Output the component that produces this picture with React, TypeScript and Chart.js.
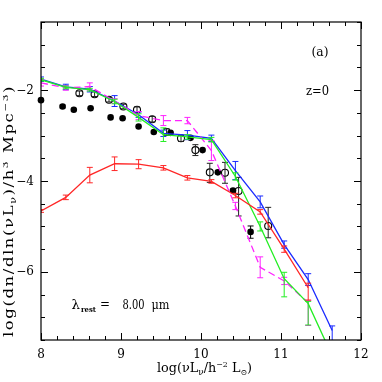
import React, { useEffect, useRef } from "react";
import { Chart, registerables } from "chart.js";

Chart.register(...registerables);

const FONT = '"DejaVu Serif", serif';

// ---- axis ticks ----
const xTicks = [8, 9, 10, 11, 12];
const xTickLabels = ["8", "9", "10", "11", "12"];
const yTicks = [-2, -4, -6];
const yTickLabels = ["\u22122", "\u22124", "\u22126"];

// ---- model curves: log(nu L_nu) bins ----
const blueL = [8.0, 8.31, 8.61, 8.92, 9.22, 9.53, 9.83, 10.13, 10.43, 10.74, 11.04, 11.34, 11.64];
const blueY = [-1.76, -1.93, -1.98, -2.24, -2.54, -2.95, -2.99, -3.06, -3.77, -4.46, -5.40, -6.17, -7.29];
const blueLo = [0.05, 0.06, 0.06, 0.12, 0.06, 0.07, 0.10, 0.07, 0.20, 0.13, 0.08, 0.13, 0.40];
const blueHi = [0.05, 0.06, 0.06, 0.12, 0.06, 0.07, 0.10, 0.07, 0.20, 0.13, 0.08, 0.13, 0.10];

const greenL = [8.0, 8.31, 8.61, 8.92, 9.22, 9.53, 9.83, 10.13, 10.43, 10.74, 11.04, 11.34, 11.64];
const greenY = [-1.77, -1.94, -1.99, -2.25, -2.60, -2.98, -3.03, -3.09, -3.90, -5.00, -6.15, -6.70, -7.85];
const greenLo = [0.03, 0.03, 0.03, 0.05, 0.08, 0.15, 0.05, 0.05, 0.08, 0.10, 0.40, 0.47, 0.30];
const greenHi = [0.03, 0.03, 0.03, 0.05, 0.08, 0.15, 0.05, 0.05, 0.08, 0.10, 0.14, 0.05, 0.30];

const magentaL = [8.0, 8.31, 8.61, 8.92, 9.22, 9.53, 9.83, 10.13, 10.43, 10.74, 11.04, 11.34];
const magentaY = [-1.84, -1.95, -1.92, -2.24, -2.56, -2.67, -2.67, -3.33, -4.55, -5.90, -6.20, -6.68];
const magentaLo = [0.07, 0.05, 0.08, 0.05, 0.09, 0.11, 0.07, 0.22, 0.08, 0.23, 0.08, 0.50];
const magentaHi = [0.07, 0.05, 0.08, 0.05, 0.09, 0.11, 0.07, 0.22, 0.08, 0.23, 0.08, 0.05];

const redL = [8.0, 8.31, 8.61, 8.92, 9.22, 9.53, 9.83, 10.13, 10.43, 10.74, 11.04, 11.34];
const redY = [-4.66, -4.36, -3.87, -3.62, -3.63, -3.71, -3.93, -4.01, -4.32, -4.68, -5.50, -6.35];
const redLo = [0.03, 0.05, 0.17, 0.15, 0.10, 0.05, 0.05, 0.04, 0.05, 0.05, 0.07, 0.27];
const redHi = [0.03, 0.05, 0.17, 0.15, 0.10, 0.05, 0.05, 0.04, 0.05, 0.05, 0.07, 0.10];

// ---- observations ----
const filledL = [8.0, 8.27, 8.41, 8.62, 8.87, 9.02, 9.22, 9.41, 9.62, 9.87, 10.02, 10.21, 10.40, 10.62];
const filledY = [-2.22, -2.36, -2.43, -2.40, -2.60, -2.62, -2.80, -2.92, -2.94, -3.05, -3.32, -3.81, -4.21, -5.12];
const filledLo = [0, 0.03, 0, 0, 0, 0, 0, 0, 0, 0, 0, 0, 0.03, 0.14];
const filledHi = [0, 0.03, 0, 0, 0, 0, 0, 0, 0, 0, 0, 0, 0.03, 0.13];

const openL = [8.48, 8.67, 8.85, 9.03, 9.20, 9.39, 9.57, 9.75, 9.93, 10.11, 10.30, 10.47, 10.84];
const openY = [-2.07, -2.09, -2.21, -2.36, -2.43, -2.64, -2.92, -3.06, -3.32, -3.81, -3.82, -4.22, -4.99];
const openLo = [0.05, 0.05, 0.05, 0.05, 0.06, 0.06, 0.07, 0.07, 0.12, 0.22, 0.23, 0.55, 0.26];
const openHi = [0.05, 0.05, 0.05, 0.05, 0.06, 0.06, 0.07, 0.07, 0.12, 0.20, 0.23, 0.30, 0.41];

function pts(xs: number[], ys: number[]) {
  return xs.map((x, i) => ({ x, y: ys[i] }));
}

type Seg = { t: string; s: number; dy: number; b?: boolean };

function drawRich(
  ctx: CanvasRenderingContext2D,
  segs: Seg[],
  x: number,
  y: number,
  targetW: number,
  spacing = 0
) {
  const c: any = ctx;
  ctx.save();
  c.letterSpacing = `${spacing}px`;
  const widths = segs.map((sg) => {
    ctx.font = `${sg.b ? "bold " : ""}${sg.s}px ${FONT}`;
    return ctx.measureText(sg.t).width;
  });
  const total = widths.reduce((a, b) => a + b, 0);
  ctx.translate(x, y);
  ctx.scale(targetW / total, 1);
  ctx.textAlign = "left";
  ctx.textBaseline = "alphabetic";
  let cx = 0;
  segs.forEach((sg, i) => {
    ctx.font = `${sg.b ? "bold " : ""}${sg.s}px ${FONT}`;
    ctx.fillText(sg.t, cx, sg.dy);
    cx += widths[i];
  });
  ctx.restore();
}

function fitText(ctx: CanvasRenderingContext2D, t: string, x: number, y: number, w: number, size: number, bold = false) {
  drawRich(ctx, [{ t, s: size, dy: 0, b: bold }], x, y, w);
}

const overlay = {
  id: "overlay",
  afterDatasetDraw(chart: any, args: any) {
    const ds: any = chart.data.datasets[args.index];
    if (!ds.errLo) return;
    const { ctx, chartArea: ca } = chart;
    const ys = chart.scales.y;
    ctx.save();
    ctx.beginPath();
    ctx.rect(ca.left, ca.top, ca.right - ca.left, ca.bottom - ca.top);
    ctx.clip();
    ctx.strokeStyle = ds.errColor;
    ctx.lineWidth = 1;
    ctx.setLineDash([]);
    args.meta.data.forEach((p: any, i: number) => {
      const lo = ds.errLo[i];
      const hi = ds.errHi[i];
      if (!lo && !hi) return;
      const yv = ds.data[i].y;
      const y1 = ys.getPixelForValue(yv - lo);
      const y2 = ys.getPixelForValue(yv + hi);
      const x = p.x;
      ctx.beginPath();
      ctx.moveTo(x, y1);
      ctx.lineTo(x, y2);
      ctx.moveTo(x - 3, y1);
      ctx.lineTo(x + 3, y1);
      ctx.moveTo(x - 3, y2);
      ctx.lineTo(x + 3, y2);
      ctx.stroke();
    });
    ctx.restore();
  },
  afterDraw(chart: any) {
    const { ctx, chartArea: ca } = chart;
    const xs = chart.scales.x;
    const ys = chart.scales.y;
    ctx.save();
    ctx.strokeStyle = "#000";
    ctx.fillStyle = "#000";
    ctx.lineWidth = 1.2;
    ctx.setLineDash([]);
    ctx.strokeRect(ca.left, ca.top, ca.right - ca.left, ca.bottom - ca.top);
    // x ticks (bottom and top)
    ctx.lineWidth = 1;
    ctx.beginPath();
    for (let k = 0; k <= 20; k++) {
      const v = 8 + k * 0.2;
      const px = Math.round(xs.getPixelForValue(v)) + 0.5;
      const len = k % 5 === 0 ? 7 : 4;
      ctx.moveTo(px, ca.bottom);
      ctx.lineTo(px, ca.bottom - len);
      ctx.moveTo(px, ca.top);
      ctx.lineTo(px, ca.top + len);
    }
    for (let k = 0; k <= 14; k++) {
      const v = -7.5 + k * 0.5;
      const py = Math.round(ys.getPixelForValue(v)) + 0.5;
      const major = yTicks.includes(v);
      const len = major ? 7 : 4;
      ctx.moveTo(ca.left, py);
      ctx.lineTo(ca.left + len, py);
      ctx.moveTo(ca.right, py);
      ctx.lineTo(ca.right - len, py);
    }
    ctx.stroke();
    // tick labels
    ctx.font = `12px ${FONT}`;
    ctx.textAlign = "center";
    ctx.textBaseline = "alphabetic";
    xTicks.forEach((v, i) => {
      ctx.fillText(xTickLabels[i], xs.getPixelForValue(v), 357.5);
    });
    ctx.textAlign = "right";
    ctx.textBaseline = "middle";
    yTicks.forEach((v, i) => {
      ctx.fillText(yTickLabels[i], 34, ys.getPixelForValue(v) + 0.5);
    });
    // axis titles
    drawRich(
      ctx,
      [
        { t: "log(\u03bdL", s: 13, dy: 0 },
        { t: "\u03bd", s: 9, dy: 3 },
        { t: "/h", s: 13, dy: 0 },
        { t: "\u22122", s: 8, dy: -5 },
        { t: " L", s: 13, dy: 0 },
        { t: "\u2299", s: 8, dy: 3 },
        { t: ")", s: 13, dy: 0 },
      ],
      157,
      371.5,
      95
    );
    ctx.save();
    ctx.translate(13, 337);
    ctx.rotate(-Math.PI / 2);
    drawRich(
      ctx,
      [
        { t: "log(dn/dln(\u03bdL", s: 12.5, dy: 0 },
        { t: "\u03bd", s: 8.5, dy: 3 },
        { t: ")/h", s: 12.5, dy: 0 },
        { t: "3", s: 8, dy: -5 },
        { t: " Mpc", s: 12.5, dy: 0 },
        { t: "\u22123", s: 8, dy: -5 },
        { t: ")", s: 12.5, dy: 0 },
      ],
      0,
      0,
      252,
      1.2
    );
    ctx.restore();
    // annotations
    fitText(ctx, "(a)", 311.5, 56, 17, 12);
    fitText(ctx, "z=0", 306, 95, 23, 12);
    fitText(ctx, "\u03bb", 71.5, 309, 8.5, 12);
    fitText(ctx, "rest", 81, 311.5, 15, 7.5, true);
    fitText(ctx, "=", 100, 307.5, 10, 12);
    fitText(ctx, "8.00", 122.5, 309, 22, 12.5);
    fitText(ctx, "\u03bcm", 151.5, 309, 18, 12);
    ctx.restore();
  },
};

export default function App() {
  const ref = useRef<HTMLCanvasElement | null>(null);
  useEffect(() => {
    if (!ref.current) return;
    const line = (xs: number[], ys: number[], lo: number[], hi: number[], color: string, dash: number[] = []) => ({
      data: pts(xs, ys),
      showLine: true,
      borderColor: color,
      backgroundColor: color,
      borderWidth: 1.3,
      borderDash: dash,
      pointRadius: 0,
      pointHoverRadius: 0,
      errLo: lo,
      errHi: hi,
      errColor: color,
    });
    const chart = new Chart(ref.current, {
      type: "scatter",
      data: {
        datasets: [
          line(redL, redY, redLo, redHi, "#ff2626"),
          line(greenL, greenY, greenLo, greenHi, "#22ee22"),
          line(magentaL, magentaY, magentaLo, magentaHi, "#ff22ff", [7, 4]),
          line(blueL, blueY, blueLo, blueHi, "#1a2aff"),
          {
            data: pts(openL, openY),
            showLine: false,
            clip: false,
            pointRadius: 3.5,
            pointBorderWidth: 1.1,
            pointBorderColor: "#000",
            pointBackgroundColor: "rgba(0,0,0,0)",
            errLo: openLo,
            errHi: openHi,
            errColor: "#222",
          } as any,
          {
            data: pts(filledL, filledY),
            showLine: false,
            clip: false,
            pointRadius: 3.3,
            pointBorderWidth: 0,
            pointBorderColor: "#000",
            pointBackgroundColor: "#000",
            errLo: filledLo,
            errHi: filledHi,
            errColor: "#000",
          } as any,
        ] as any,
      },
      options: {
        animation: false,
        responsive: false,
        devicePixelRatio: 1,
        layout: { padding: { left: 41, right: 21, top: 22, bottom: 42 } },
        plugins: { legend: { display: false }, tooltip: { enabled: false } },
        scales: {
          x: { type: "linear", min: 8, max: 12, display: false },
          y: { type: "linear", min: -7.5, max: -0.5, display: false },
        },
      } as any,
      plugins: [overlay],
    });
    return () => chart.destroy();
  }, []);
  return (
    <div style={{ position: "fixed", left: 0, top: 0, width: 382, height: 382, background: "#fff" }}>
      <canvas ref={ref} width={382} height={382} style={{ width: 382, height: 382, display: "block" }} />
    </div>
  );
}
